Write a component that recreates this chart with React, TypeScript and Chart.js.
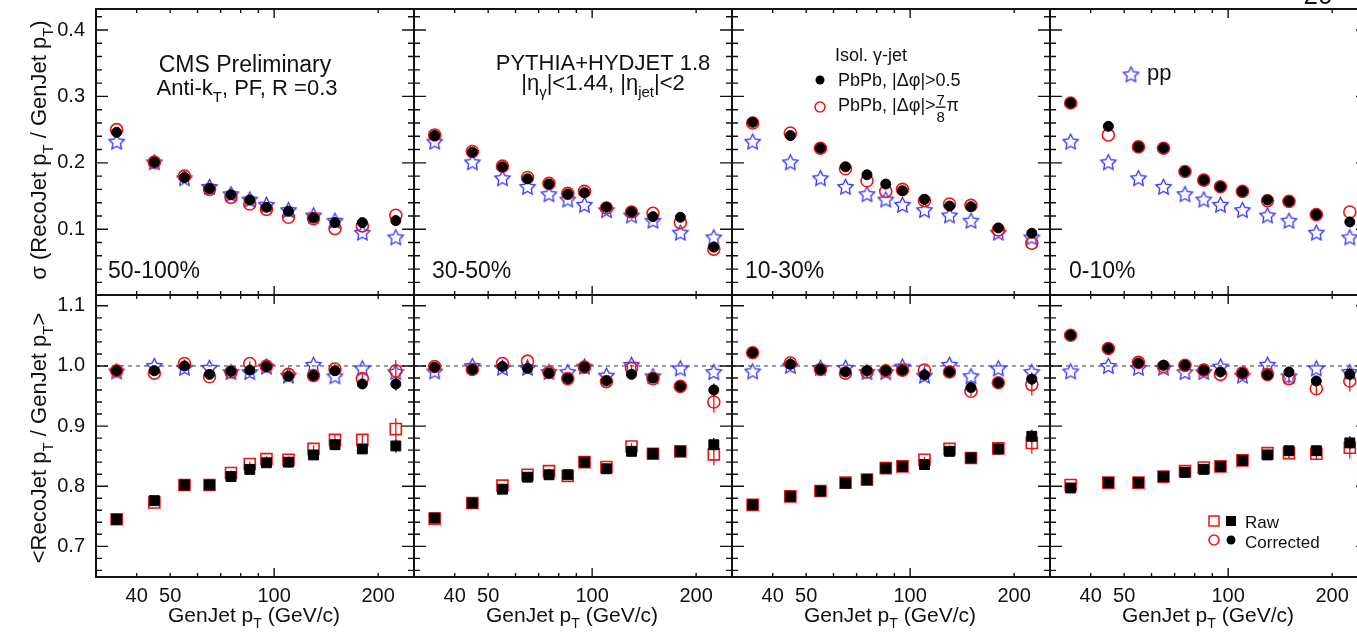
import React, { useEffect, useRef } from 'react';
import { Chart, registerables } from 'chart.js';

Chart.register(...registerables);

const FONT = "'Liberation Sans', Arial, Helvetica, sans-serif";

// ---------- data ----------
const GEN_PT = [35, 45, 55, 65, 75, 85, 95, 110, 130, 150, 180, 225];
const X_MIN = 30.5;
const X_MAX = 254;
const X_MAJOR_TICKS = [100];
const X_MINOR_TICKS = [40, 50, 60, 70, 80, 90, 200];
const X_LABELS = [40, 50, 100, 200];
const CENTRALITIES = ['50-100%', '30-50%', '10-30%', '0-10%'];

const SIGMA_Y_TICKS = [0.1, 0.2, 0.3, 0.4];
const MEAN_Y_TICKS = [0.7, 0.8, 0.9, 1.0, 1.1];

// sigma(RecoJet pT / GenJet pT)
const SIGMA_PP = [0.231, 0.200, 0.176, 0.163, 0.152, 0.144, 0.136, 0.128, 0.120, 0.112, 0.094, 0.087];
const SIGMA_DPHI05_50_100 = [0.246, 0.201, 0.178, 0.161, 0.152, 0.144, 0.133, 0.127, 0.117, 0.110, 0.110, 0.113];
const SIGMA_DPHI78_50_100 = [0.250, 0.201, 0.180, 0.160, 0.148, 0.138, 0.130, 0.118, 0.116, 0.101, 0.105, 0.121];
const SIGMA_DPHI05_30_50 = [0.241, 0.216, 0.194, 0.176, 0.168, 0.153, 0.155, 0.133, 0.126, 0.119, 0.118, 0.073];
const SIGMA_DPHI78_30_50 = [0.242, 0.217, 0.195, 0.178, 0.169, 0.154, 0.157, 0.132, 0.126, 0.124, 0.110, 0.070];
const SIGMA_DPHI05_10_30 = [0.261, 0.241, 0.222, 0.194, 0.182, 0.168, 0.158, 0.145, 0.135, 0.134, 0.102, 0.094];
const SIGMA_DPHI78_10_30 = [0.260, 0.245, 0.222, 0.191, 0.173, 0.157, 0.160, 0.143, 0.138, 0.136, 0.099, 0.079];
const SIGMA_DPHI05_0_10 = [0.290, 0.255, 0.224, 0.222, 0.187, 0.174, 0.164, 0.157, 0.144, 0.142, 0.122, 0.111];
const SIGMA_DPHI78_0_10 = [0.290, 0.242, 0.224, 0.222, 0.187, 0.174, 0.164, 0.157, 0.143, 0.142, 0.122, 0.126];

// <RecoJet pT / GenJet pT>, corrected
const MEAN_PP = [0.990, 0.999, 0.996, 0.996, 0.989, 0.989, 0.998, 0.983, 1.001, 0.982, 0.995, 0.989];
const CORR_DPHI05_50_100 = [0.992, 0.992, 1.000, 0.986, 0.991, 0.993, 0.999, 0.983, 0.984, 0.992, 0.970, 0.970];
const CORR_DPHI78_50_100 = [0.992, 0.988, 1.004, 0.982, 0.990, 1.004, 1.000, 0.986, 0.984, 0.995, 0.979, 0.992];
const CORR_DPHI05_30_50 = [0.998, 0.994, 0.999, 0.996, 0.988, 0.979, 0.998, 0.975, 0.986, 0.980, 0.966, 0.960];
const CORR_DPHI78_30_50 = [0.999, 0.994, 1.004, 1.008, 0.989, 0.979, 0.998, 0.974, 0.996, 0.979, 0.966, 0.940];
const CORR_DPHI05_10_30 = [1.022, 1.003, 0.994, 0.990, 0.992, 0.992, 0.993, 0.985, 0.990, 0.964, 0.972, 0.978];
const CORR_DPHI78_10_30 = [1.022, 1.005, 0.994, 0.988, 0.990, 0.992, 0.993, 0.993, 0.990, 0.958, 0.972, 0.969];
const CORR_DPHI05_0_10 = [1.051, 1.029, 1.005, 1.001, 1.001, 0.993, 0.990, 0.988, 0.985, 0.990, 0.975, 0.986];
const CORR_DPHI78_0_10 = [1.051, 1.029, 1.006, 0.999, 1.001, 0.993, 0.986, 0.988, 0.986, 0.979, 0.962, 0.975];

// <RecoJet pT / GenJet pT>, raw
const RAW_DPHI05_50_100 = [0.745, 0.776, 0.802, 0.802, 0.816, 0.828, 0.839, 0.840, 0.852, 0.869, 0.862, 0.867];
const RAW_DPHI78_50_100 = [0.745, 0.773, 0.802, 0.802, 0.822, 0.837, 0.845, 0.844, 0.862, 0.877, 0.877, 0.895];
const RAW_DPHI05_30_50 = [0.747, 0.772, 0.795, 0.815, 0.819, 0.819, 0.840, 0.829, 0.858, 0.854, 0.858, 0.869];
const RAW_DPHI78_30_50 = [0.746, 0.772, 0.801, 0.819, 0.825, 0.817, 0.840, 0.832, 0.866, 0.854, 0.858, 0.853];
const RAW_DPHI05_10_30 = [0.769, 0.783, 0.792, 0.805, 0.811, 0.830, 0.833, 0.836, 0.858, 0.847, 0.862, 0.883];
const RAW_DPHI78_10_30 = [0.769, 0.783, 0.792, 0.806, 0.811, 0.830, 0.833, 0.844, 0.862, 0.847, 0.863, 0.872];
const RAW_DPHI05_0_10 = [0.797, 0.806, 0.806, 0.816, 0.823, 0.828, 0.833, 0.843, 0.852, 0.859, 0.859, 0.872];
const RAW_DPHI78_0_10 = [0.802, 0.806, 0.806, 0.816, 0.825, 0.831, 0.833, 0.843, 0.855, 0.855, 0.854, 0.864];

// statistical uncertainties on the mean (estimated from error-bar lengths)
const MEAN_ERR_DPHI05 = [0.002, 0.002, 0.002, 0.002, 0.002, 0.003, 0.003, 0.003, 0.004, 0.005, 0.007, 0.011];
const MEAN_ERR_DPHI78 = [0.003, 0.003, 0.003, 0.003, 0.004, 0.004, 0.005, 0.005, 0.006, 0.008, 0.009, 0.018];

const SIGMA_DPHI05 = [SIGMA_DPHI05_50_100, SIGMA_DPHI05_30_50, SIGMA_DPHI05_10_30, SIGMA_DPHI05_0_10];
const SIGMA_DPHI78 = [SIGMA_DPHI78_50_100, SIGMA_DPHI78_30_50, SIGMA_DPHI78_10_30, SIGMA_DPHI78_0_10];
const CORR_DPHI05 = [CORR_DPHI05_50_100, CORR_DPHI05_30_50, CORR_DPHI05_10_30, CORR_DPHI05_0_10];
const CORR_DPHI78 = [CORR_DPHI78_50_100, CORR_DPHI78_30_50, CORR_DPHI78_10_30, CORR_DPHI78_0_10];
const RAW_DPHI05 = [RAW_DPHI05_50_100, RAW_DPHI05_30_50, RAW_DPHI05_10_30, RAW_DPHI05_0_10];
const RAW_DPHI78 = [RAW_DPHI78_50_100, RAW_DPHI78_30_50, RAW_DPHI78_10_30, RAW_DPHI78_0_10];

// ---------- layout ----------
const PAGE_W = 1357;
const PAGE_H = 632;
const PANEL_LEFT = [96, 414, 732, 1050];
const PANEL_W = 318;
const ROW_TOP = [9, 295];
const ROW_BOTTOM = [295, 577];
const Y_RANGE = [
  [0.001, 0.4316],
  [0.649, 1.118],
];
const MARGIN = 32;

const RED = '#f01414';
const BLUE = '#2f2fff';

function panelBox(col: number, row: number) {
  const L = PANEL_LEFT[col];
  const R = L + PANEL_W;
  const T = ROW_TOP[row];
  const B = ROW_BOTTOM[row];
  const x0 = col === 0 ? 0 : L - MARGIN;
  const x1 = R + MARGIN;
  const y0 = T - MARGIN;
  const y1 = row === 0 ? B + MARGIN : PAGE_H;
  return { L, R, T, B, x0, x1, y0, y1, w: x1 - x0, h: y1 - y0 };
}

type Seg = { t: string; sub?: boolean };

function segFont(size: number, sub?: boolean) {
  return `${sub ? Math.round(size * 0.68) : size}px ${FONT}`;
}

function richWidth(ctx: CanvasRenderingContext2D, segs: Seg[], size: number) {
  let w = 0;
  for (const s of segs) {
    ctx.font = segFont(size, s.sub);
    w += ctx.measureText(s.t).width;
  }
  return w;
}

function drawRich(ctx: CanvasRenderingContext2D, segs: Seg[], x: number, y: number, size: number, align: 'left' | 'center') {
  const w = richWidth(ctx, segs, size);
  let cx = align === 'center' ? x - w / 2 : x;
  ctx.textAlign = 'left';
  ctx.textBaseline = 'alphabetic';
  for (const s of segs) {
    ctx.font = segFont(size, s.sub);
    ctx.fillText(s.t, cx, s.sub ? y + size * 0.3 : y);
    cx += ctx.measureText(s.t).width;
  }
  return cx;
}

function makeStar(color: string, R: number, r: number, lw: number) {
  const size = Math.ceil(2 * R + 2 * lw + 2);
  const c = document.createElement('canvas');
  c.width = size;
  c.height = size;
  const g = c.getContext('2d')!;
  g.strokeStyle = color;
  g.lineWidth = lw;
  g.lineJoin = 'miter';
  g.beginPath();
  for (let i = 0; i < 10; i++) {
    const ang = -Math.PI / 2 + (i * Math.PI) / 5;
    const rad = i % 2 === 0 ? R : r;
    const px = size / 2 + rad * Math.cos(ang);
    const py = size / 2 + rad * Math.sin(ang);
    if (i === 0) g.moveTo(px, py);
    else g.lineTo(px, py);
  }
  g.closePath();
  g.stroke();
  return c;
}

function drawCircle(ctx: CanvasRenderingContext2D, x: number, y: number, r: number, fill: string | null, stroke: string | null, lw = 1.5) {
  ctx.beginPath();
  ctx.arc(x, y, r, 0, Math.PI * 2);
  if (fill) {
    ctx.fillStyle = fill;
    ctx.fill();
  }
  if (stroke) {
    ctx.strokeStyle = stroke;
    ctx.lineWidth = lw;
    ctx.stroke();
  }
}

function panelText(ctx: CanvasRenderingContext2D, col: number, row: number, star: HTMLCanvasElement) {
  ctx.fillStyle = '#111';
  if (row === 0) {
    const lblX = [108, 432, 745, 1069];
    drawRich(ctx, [{ t: CENTRALITIES[col] }], lblX[col], 278, 23, 'left');
    if (col === 0) {
      ctx.save();
      ctx.translate(46, 150);
      ctx.rotate(-Math.PI / 2);
      drawRich(ctx, [{ t: 'σ (RecoJet p' }, { t: 'T', sub: true }, { t: ' / GenJet p' }, { t: 'T', sub: true }, { t: ')' }], 0, 0, 22, 'center');
      ctx.restore();
      drawRich(ctx, [{ t: 'CMS Preliminary' }], 245, 72, 23, 'center');
      drawRich(ctx, [{ t: 'Anti-k' }, { t: 'T', sub: true }, { t: ', PF, R =0.3' }], 247, 95, 22, 'center');
    }
    if (col === 1) {
      drawRich(ctx, [{ t: 'PYTHIA+HYDJET 1.8' }], 603, 70, 22, 'center');
      drawRich(ctx, [{ t: '|η' }, { t: 'γ', sub: true }, { t: '|<1.44, |η' }, { t: 'jet', sub: true }, { t: '|<2' }], 603, 90, 22, 'center');
    }
    if (col === 2) {
      drawRich(ctx, [{ t: 'Isol. γ-jet' }], 835, 61, 18, 'left');
      drawCircle(ctx, 820, 80, 4.5, '#000', null);
      ctx.fillStyle = '#111';
      drawRich(ctx, [{ t: 'PbPb, |Δφ|>0.5' }], 838, 86, 18, 'left');
      drawCircle(ctx, 820, 107, 5, null, RED, 1.6);
      ctx.fillStyle = '#111';
      const xe = drawRich(ctx, [{ t: 'PbPb, |Δφ|>' }], 838, 111, 18, 'left');
      ctx.font = `15px ${FONT}`;
      ctx.textAlign = 'center';
      const fx = xe + 5;
      ctx.fillText('7', fx, 105);
      ctx.fillText('8', fx, 122);
      ctx.fillRect(xe, 106.5, 10, 1.3);
      ctx.font = `18px ${FONT}`;
      ctx.textAlign = 'left';
      ctx.fillText('π', xe + 11, 111);
    }
    if (col === 3) {
      ctx.drawImage(star, 1131 - star.width / 2, 75 - star.height / 2);
      drawRich(ctx, [{ t: 'pp' }], 1147, 80, 22, 'left');
      drawRich(ctx, [{ t: '20' }], 1318, 4, 26, 'center');
    }
  } else {
    const cxT = PANEL_LEFT[col] + PANEL_W / 2 - 1;
    drawRich(ctx, [{ t: 'GenJet p' }, { t: 'T', sub: true }, { t: ' (GeV/c)' }], cxT, 622, 21, 'center');
    if (col === 0) {
      ctx.save();
      ctx.translate(46, 438);
      ctx.rotate(-Math.PI / 2);
      drawRich(ctx, [{ t: '<RecoJet p' }, { t: 'T', sub: true }, { t: ' / GenJet p' }, { t: 'T', sub: true }, { t: '>' }], 0, 0, 22, 'center');
      ctx.restore();
    }
    if (col === 3) {
      ctx.strokeStyle = RED;
      ctx.lineWidth = 1.5;
      ctx.strokeRect(1214 - 5, 521 - 5, 10, 10);
      ctx.fillStyle = '#000';
      ctx.fillRect(1231 - 5, 521 - 5, 10, 10);
      ctx.fillStyle = '#111';
      drawRich(ctx, [{ t: 'Raw' }], 1245, 528, 17, 'left');
      drawCircle(ctx, 1214, 540, 5, null, RED, 1.6);
      drawCircle(ctx, 1231, 540, 4.5, '#000', null);
      ctx.fillStyle = '#111';
      drawRich(ctx, [{ t: 'Corrected' }], 1245, 548, 17, 'left');
    }
  }
}

function buildChart(canvas: HTMLCanvasElement, col: number, row: number, star: HTMLCanvasElement) {
  const b = panelBox(col, row);
  const pts = (ys: number[]) => GEN_PT.map((x, i) => ({ x, y: ys[i] }));
  const yTicks = row === 0 ? SIGMA_Y_TICKS : MEAN_Y_TICKS;
  const [yMin, yMax] = Y_RANGE[row];

  const datasets: any[] = [];
  if (row === 0) {
    datasets.push(
      { label: 'PbPb, |Δφ|>0.5', data: pts(SIGMA_DPHI05[col]), pointStyle: 'circle', pointRadius: 5, backgroundColor: '#000', borderColor: '#000', borderWidth: 1, order: 0 },
      { label: 'PbPb, |Δφ|>7/8π', data: pts(SIGMA_DPHI78[col]), pointStyle: 'circle', pointRadius: 6, backgroundColor: 'rgba(0,0,0,0)', borderColor: RED, borderWidth: 1.6, order: 1 },
      { label: 'pp', data: pts(SIGMA_PP), pointStyle: star, pointRadius: 8, backgroundColor: 'rgba(0,0,0,0)', borderColor: BLUE, order: 2 },
    );
  } else {
    datasets.push(
      { label: 'Corrected, |Δφ|>0.5', data: pts(CORR_DPHI05[col]), errors: MEAN_ERR_DPHI05, pointStyle: 'circle', pointRadius: 5, backgroundColor: '#000', borderColor: '#000', borderWidth: 1, order: 0 },
      { label: 'Raw, |Δφ|>0.5', data: pts(RAW_DPHI05[col]), errors: MEAN_ERR_DPHI05, pointStyle: 'rect', pointRadius: 7, backgroundColor: '#000', borderColor: '#000', borderWidth: 1, order: 0 },
      { label: 'Corrected, |Δφ|>7/8π', data: pts(CORR_DPHI78[col]), errors: MEAN_ERR_DPHI78, pointStyle: 'circle', pointRadius: 6, backgroundColor: 'rgba(0,0,0,0)', borderColor: RED, borderWidth: 1.6, order: 1 },
      { label: 'Raw, |Δφ|>7/8π', data: pts(RAW_DPHI78[col]), errors: MEAN_ERR_DPHI78, pointStyle: 'rect', pointRadius: 7.8, backgroundColor: 'rgba(0,0,0,0)', borderColor: RED, borderWidth: 1.6, order: 1 },
      { label: 'pp', data: pts(MEAN_PP), pointStyle: star, pointRadius: 8, backgroundColor: 'rgba(0,0,0,0)', borderColor: BLUE, order: 2 },
      { label: 'unity', data: [{ x: X_MIN, y: 1 }, { x: X_MAX, y: 1 }], showLine: true, pointRadius: 0, borderColor: '#555', borderWidth: 1.2, borderDash: [4, 4], order: 5 },
    );
  }

  const yMinor: number[] = [];
  const yMajor: number[] = yTicks;
  for (let k = 1; k <= 60; k++) {
    const v = k * 0.02;
    if (v < yMin || v > yMax) continue;
    if (yMajor.some((m) => Math.abs(m - v) < 1e-6)) continue;
    yMinor.push(v);
  }

  const errorBarPlugin = {
    id: 'errorBars',
    beforeDatasetsDraw(chart: any) {
      const { ctx, scales } = chart;
      ctx.save();
      chart.data.datasets.forEach((ds: any) => {
        if (!ds.errors) return;
        ctx.strokeStyle = ds.borderColor;
        ctx.lineWidth = 1.3;
        ctx.beginPath();
        ds.data.forEach((p: any, i: number) => {
          const e = ds.errors[i];
          const px = scales.x.getPixelForValue(p.x);
          ctx.moveTo(px, scales.y.getPixelForValue(p.y - e));
          ctx.lineTo(px, scales.y.getPixelForValue(p.y + e));
        });
        ctx.stroke();
      });
      ctx.restore();
    },
  };

  const framePlugin = {
    id: 'rootFrame',
    afterDraw(chart: any) {
      const { ctx, chartArea: a, scales } = chart;
      const xs = scales.x;
      const ys = scales.y;
      ctx.save();
      ctx.strokeStyle = '#111';
      ctx.lineWidth = 1.4;
      ctx.beginPath();
      const xTick = (v: number, len: number) => {
        const px = xs.getPixelForValue(v);
        ctx.moveTo(px, a.bottom);
        ctx.lineTo(px, a.bottom - len);
        ctx.moveTo(px, a.top);
        ctx.lineTo(px, a.top + len);
      };
      X_MINOR_TICKS.forEach((v) => xTick(v, 4));
      X_MAJOR_TICKS.forEach((v) => xTick(v, 9));
      const yTick = (v: number, len: number) => {
        const py = ys.getPixelForValue(v);
        ctx.moveTo(a.left, py);
        ctx.lineTo(a.left + len, py);
        ctx.moveTo(a.right, py);
        ctx.lineTo(a.right - len, py);
      };
      yMinor.forEach((v) => yTick(v, 6));
      yMajor.forEach((v) => yTick(v, 12));
      ctx.stroke();
      ctx.lineWidth = 2;
      ctx.strokeRect(a.left, a.top, a.right - a.left, a.bottom - a.top);
      ctx.restore();

      ctx.save();
      ctx.translate(-b.x0, -b.y0);
      panelText(ctx, col, row, star);
      ctx.restore();
    },
  };

  return new Chart(canvas, {
    type: 'scatter',
    data: { datasets },
    options: {
      responsive: false,
      animation: false,
      devicePixelRatio: 1,
      events: [],
      layout: { padding: { left: 0, right: b.x1 - b.R, top: b.T - b.y0, bottom: 0 } },
      plugins: { legend: { display: false }, tooltip: { enabled: false }, title: { display: false } },
      scales: {
        x: {
          type: 'logarithmic',
          position: 'bottom',
          min: X_MIN,
          max: X_MAX,
          grid: { display: false, drawTicks: false },
          border: { display: false },
          afterBuildTicks: (s: any) => {
            s.ticks = [...X_MINOR_TICKS, ...X_MAJOR_TICKS].sort((p, q) => p - q).map((v) => ({ value: v }));
          },
          afterFit: (s: any) => {
            s.height = b.y1 - b.B;
          },
          ticks: {
            display: row === 1,
            autoSkip: false,
            maxRotation: 0,
            minRotation: 0,
            padding: 7,
            color: '#111',
            font: { family: FONT, size: 20 },
            callback: (v: any) => (X_LABELS.includes(Number(v)) ? String(v) : ''),
          },
        },
        y: {
          type: 'linear',
          position: 'left',
          min: yMin,
          max: yMax,
          grid: { display: false, drawTicks: false },
          border: { display: false },
          afterBuildTicks: (s: any) => {
            s.ticks = yTicks.map((v) => ({ value: v }));
          },
          afterFit: (s: any) => {
            s.width = b.L - b.x0;
          },
          ticks: {
            display: col === 0,
            padding: 11,
            color: '#111',
            font: { family: FONT, size: 20 },
            callback: (v: any) => Number(v).toFixed(1),
          },
        },
      },
    } as any,
    plugins: [errorBarPlugin, framePlugin],
  });
}

export default function App() {
  const refs = useRef<(HTMLCanvasElement | null)[]>([]);
  const boxes: { col: number; row: number; b: ReturnType<typeof panelBox> }[] = [];
  for (let row = 0; row < 2; row++) for (let col = 0; col < 4; col++) boxes.push({ col, row, b: panelBox(col, row) });

  useEffect(() => {
    const star = makeStar(BLUE, 8, 4, 1.3);
    const charts: Chart[] = [];
    boxes.forEach((bx, i) => {
      const cv = refs.current[i];
      if (cv) charts.push(buildChart(cv, bx.col, bx.row, star));
    });
    return () => charts.forEach((c) => c.destroy());
  }, []);

  return (
    <div style={{ position: 'fixed', left: 0, top: 0, width: PAGE_W, height: PAGE_H, overflow: 'hidden', background: '#fff' }}>
      {boxes.map((bx, i) => (
        <canvas
          key={i}
          ref={(el) => {
            refs.current[i] = el;
          }}
          width={bx.b.w}
          height={bx.b.h}
          style={{ position: 'absolute', left: bx.b.x0, top: bx.b.y0, width: bx.b.w, height: bx.b.h }}
        />
      ))}
    </div>
  );
}
